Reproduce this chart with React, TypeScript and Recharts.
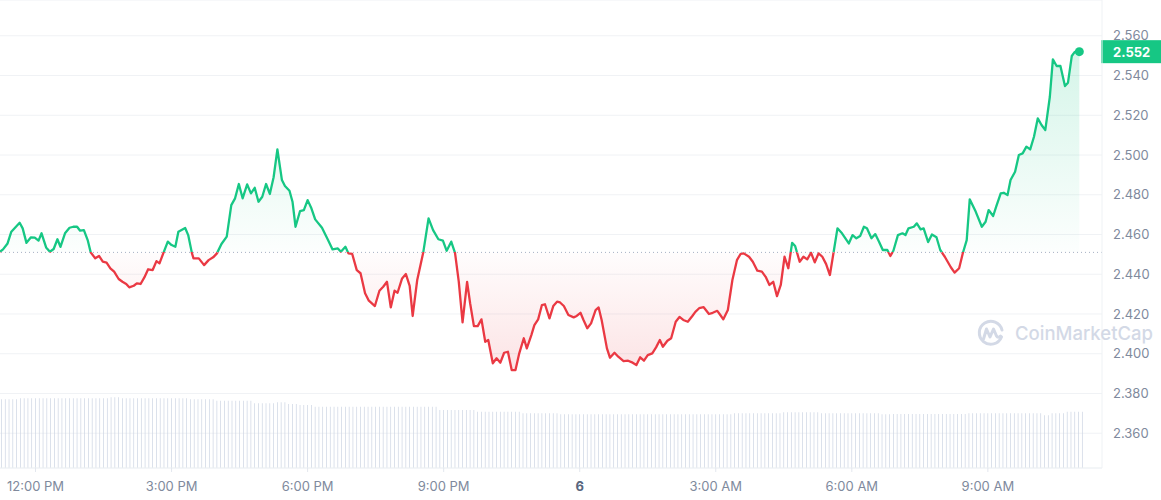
import React from 'react';
import {
  ComposedChart,
  Area,
  Bar,
  XAxis,
  YAxis,
  CartesianGrid,
  ReferenceLine,
  ReferenceDot,
} from 'recharts';

// minutes relative to 12:00 PM
const timeTicks = [0, 180, 360, 540, 720, 900, 1080, 1260];
const timeLabels = ['12:00 PM', '3:00 PM', '6:00 PM', '9:00 PM', '6', '3:00 AM', '6:00 AM', '9:00 AM'];
const priceTicks = [2.36, 2.38, 2.4, 2.42, 2.44, 2.46, 2.48, 2.5, 2.52, 2.54, 2.56];

const BASELINE = 2.451;

const priceMinutes = [
  -47, -43, -37, -32, -21, -17, -12, -6, -1, 4, 8, 14, 19, 24, 29, 33, 39, 45, 50, 55,
  59, 64, 69, 73, 79, 84, 89, 94, 99, 104, 110, 115, 120, 124, 130, 134, 139, 144, 149, 155,
  160, 164, 169, 175, 180, 185, 189, 198, 202, 207, 209, 216, 223, 229, 235, 240, 246, 253, 259, 264,
  269, 274, 280, 285, 290, 295, 300, 305, 310, 315, 320, 326, 330, 336, 340, 344, 350, 355, 360, 365,
  370, 379, 387, 393, 400, 404, 410, 414, 419, 425, 430, 436, 441, 449, 455, 460, 465, 470, 475, 479,
  485, 490, 495, 499, 505, 513, 520, 526, 533, 539, 544, 550, 555, 560, 565, 571, 575, 580, 585, 590,
  595, 599, 605, 610, 615, 620, 625, 630, 635, 640, 646, 650, 656, 660, 665, 670, 674, 680, 685, 690,
  694, 699, 705, 712, 716, 721, 725, 730, 735, 741, 745, 749, 756, 760, 766, 771, 778, 784, 790, 795,
  800, 805, 810, 816, 821, 826, 830, 836, 841, 847, 852, 857, 863, 869, 873, 878, 884, 891, 896, 902,
  906, 910, 916, 922, 928, 933, 937, 944, 949, 955, 961, 966, 971, 976, 981, 986, 991, 996, 1001, 1005,
  1011, 1016, 1021, 1026, 1031, 1036, 1041, 1046, 1051, 1056, 1061, 1067, 1076, 1081, 1086, 1091, 1096, 1100, 1106, 1111,
  1116, 1121, 1127, 1131, 1135, 1141, 1147, 1151, 1155, 1162, 1166, 1171, 1175, 1181, 1186, 1192, 1197, 1203, 1211, 1216,
  1222, 1227, 1232, 1236, 1244, 1252, 1257, 1261, 1267, 1271, 1277, 1281, 1286, 1290, 1296, 1301, 1306, 1311, 1316, 1321,
  1326, 1331, 1336, 1342, 1346, 1351, 1356, 1362, 1366, 1371, 1375, 1381,
];

const priceValues = [
  2.4513, 2.4525, 2.4555, 2.4614, 2.4659, 2.4631, 2.4558, 2.4586, 2.4584, 2.4569, 2.4606, 2.4535, 2.4513, 2.4527, 2.4576, 2.4538, 2.4606, 2.4634, 2.4639, 2.4639,
  2.4619, 2.4622, 2.4572, 2.451, 2.448, 2.4492, 2.4463, 2.4458, 2.443, 2.4413, 2.4376, 2.4362, 2.4351, 2.4334, 2.4342, 2.4354, 2.4351, 2.4384, 2.4425, 2.4421,
  2.4466, 2.4455, 2.4505, 2.4564, 2.4547, 2.4538, 2.4614, 2.4633, 2.4597, 2.4505, 2.448, 2.448, 2.4446, 2.4471, 2.4485, 2.4505, 2.4552, 2.4589, 2.4748, 2.4782,
  2.4854, 2.4782, 2.4852, 2.4807, 2.4835, 2.4765, 2.479, 2.4854, 2.4804, 2.4888, 2.5028, 2.4874, 2.4844, 2.482, 2.4765, 2.4639, 2.4718, 2.4723, 2.4773, 2.4732,
  2.4676, 2.4634, 2.4572, 2.4525, 2.453, 2.4513, 2.4538, 2.4505, 2.4502, 2.4421, 2.4405, 2.4304, 2.4267, 2.424, 2.4317, 2.4337, 2.4362, 2.4233, 2.4317, 2.4307,
  2.4379, 2.4401, 2.4341, 2.419, 2.4371, 2.451, 2.4681, 2.4622, 2.4576, 2.4569, 2.4518, 2.4564, 2.4508, 2.4362, 2.4158, 2.4362, 2.4254, 2.4139, 2.4139, 2.4173,
  2.406, 2.4069, 2.3952, 2.3977, 2.3955, 2.4005, 2.401, 2.3918, 2.3918, 2.4002, 2.4078, 2.4027, 2.4094, 2.4144, 2.4173, 2.4245, 2.4249, 2.4178, 2.424, 2.4262,
  2.4258, 2.424, 2.4195, 2.4183, 2.419, 2.4206, 2.417, 2.4128, 2.4153, 2.422, 2.4233, 2.417, 2.4027, 2.398, 2.4005, 2.3985, 2.3963, 2.3965, 2.3955, 2.3943,
  2.3982, 2.3965, 2.3993, 2.4002, 2.4032, 2.4069, 2.4035, 2.4065, 2.4078, 2.4161, 2.4185, 2.417, 2.4161, 2.419, 2.4211, 2.4229, 2.4234, 2.42, 2.4206, 2.4216,
  2.4195, 2.4173, 2.422, 2.4371, 2.4471, 2.4503, 2.4505, 2.4488, 2.4463, 2.4418, 2.4413, 2.4387, 2.4346, 2.4362, 2.429, 2.4346, 2.4488, 2.443, 2.4558, 2.4542,
  2.4463, 2.4488, 2.4475, 2.4508, 2.446, 2.4505, 2.4488, 2.4451, 2.4396, 2.4513, 2.4631, 2.4606, 2.4555, 2.4597, 2.4581, 2.4592, 2.4639, 2.4631, 2.4581, 2.4602,
  2.4564, 2.4522, 2.4522, 2.4492, 2.4518, 2.4597, 2.4606, 2.4597, 2.4631, 2.4639, 2.4656, 2.4626, 2.4631, 2.4562, 2.46, 2.4586, 2.4522, 2.4488, 2.4435, 2.4408,
  2.443, 2.4508, 2.4572, 2.4777, 2.4714, 2.4639, 2.4664, 2.4723, 2.4693, 2.474, 2.4807, 2.481, 2.4798, 2.4874, 2.4916, 2.5, 2.5008, 2.5042, 2.5028, 2.5092,
  2.5184, 2.5151, 2.5126, 2.5293, 2.5481, 2.5448, 2.5448, 2.5347, 2.5364, 2.5498, 2.5519, 2.552,
];

// 24h volume (billions), one bar every 5 minutes from 11:15 AM, stored as runs
const volumeStart = -45;
const volumeStep = 5;
const volumeLevels = [6.87, 6.97, 7.07, 6.97, 6.87, 6.73, 6.47, 6.57, 6.4, 6.3, 6.13, 5.8, 5.63, 5.47, 5.37, 5.47, 5.57, 5.47, 5.37, 5.4, 5.47, 5.27, 5.47, 5.63];
const volumeCounts = [5, 24, 3, 18, 7, 10, 6, 3, 3, 4, 33, 10, 12, 10, 46, 13, 10, 16, 3, 20, 20, 2, 4, 5];

const GREEN = '#16c784';
const RED = '#ea3943';

type Row = { t: number; price?: number; volume?: number };

const buildRows = (): Row[] => {
  const map = new Map<number, Row>();
  let i = 0;
  volumeLevels.forEach((v, k) => {
    for (let n = 0; n < volumeCounts[k]; n++) {
      const t = volumeStart + volumeStep * i;
      map.set(t, { t, volume: v });
      i++;
    }
  });
  priceMinutes.forEach((t, k) => {
    const row = map.get(t) || { t };
    row.price = priceValues[k];
    map.set(t, row);
  });
  return Array.from(map.values()).sort((a, b) => a.t - b.t);
};

const rows = buildRows();
const pMax = Math.max(...priceValues);
const pMin = Math.min(...priceValues);
const splitOffset = (pMax - BASELINE) / (pMax - pMin);
const lastT = priceMinutes[priceMinutes.length - 1];
const lastPrice = priceValues[priceValues.length - 1];

const TimeTick = ({ x, y, payload }: any) => {
  const label = timeLabels[timeTicks.indexOf(payload.value)];
  const bold = label === '6';
  return (
    <text x={x} y={y} dy={11} textAnchor="middle" fontSize={13} fill={bold ? '#58667e' : '#808a9d'} fontWeight={bold ? 700 : 400}>
      {label}
    </text>
  );
};

const PriceBadge = ({ viewBox }: any) => {
  if (!viewBox) return null;
  const left = viewBox.x + viewBox.width;
  return (
    <g>
      <rect x={left - 1} y={viewBox.y - 11.5} width={61} height={23} fill={GREEN} />
      <text x={left + 11} y={viewBox.y + 5} fill="#fff" fontSize={13} fontWeight={700}>
        {lastPrice.toFixed(3)}
      </text>
    </g>
  );
};

const Watermark = () => (
  <svg width={1161} height={500} style={{ position: 'absolute', left: 0, top: 0, pointerEvents: 'none' }}>
    <g stroke="#d3d9e6" strokeWidth={3} fill="none" strokeLinecap="round" strokeLinejoin="round">
      <path d="M1001.5,337 A11.5,11.5 0 1 1 1002,330" />
      <path d="M983.5,339 L986.5,329 L990,337 L993.5,329 L996.5,336 Q998,338.5 1000.5,336" />
    </g>
    <text x={1015} y={340} fontSize={18.5} fontWeight={500} fill="#d3d9e6" fontFamily="Inter, sans-serif">
      CoinMarketCap
    </text>
  </svg>
);

export default function App() {
  return (
    <div style={{ position: 'absolute', left: 0, top: 0, width: 1161, height: 500, background: '#fff', fontFamily: 'Inter, sans-serif' }}>
      <ComposedChart width={1161} height={500} data={rows} margin={{ top: 0, right: 0, bottom: 0, left: 0 }}>
        <defs>
          <linearGradient id="priceStroke" x1="0" y1="0" x2="0" y2="1">
            <stop offset={0} stopColor={GREEN} />
            <stop offset={splitOffset} stopColor={GREEN} />
            <stop offset={splitOffset} stopColor={RED} />
            <stop offset={1} stopColor={RED} />
          </linearGradient>
          <linearGradient id="priceFill" x1="0" y1="0" x2="0" y2="1">
            <stop offset={0} stopColor={GREEN} stopOpacity={0.3} />
            <stop offset={splitOffset} stopColor={GREEN} stopOpacity={0.02} />
            <stop offset={splitOffset} stopColor={RED} stopOpacity={0.02} />
            <stop offset={1} stopColor={RED} stopOpacity={0.23} />
          </linearGradient>
        </defs>
        <CartesianGrid yAxisId="price" vertical={false} stroke="#f0f2f5" />
        <XAxis
          dataKey="t"
          type="number"
          scale="linear"
          domain={[-47, 1411]}
          ticks={timeTicks}
          interval={0}
          height={32}
          tick={<TimeTick />}
          tickSize={4}
          tickMargin={8}
          axisLine={{ stroke: '#eff2f5' }}
          tickLine={{ stroke: '#e3e7ee' }}
          allowDataOverflow
        />
        <YAxis
          yAxisId="price"
          orientation="right"
          width={59}
          domain={[2.3425, 2.578]}
          ticks={priceTicks}
          interval={0}
          allowDataOverflow
          tickFormatter={(v: number) => v.toFixed(3)}
          tick={{ fill: '#808a9d', fontSize: 13 }}
          tickSize={0}
          tickMargin={11}
          tickLine={false}
          axisLine={{ stroke: '#eff2f5' }}
        />
        <YAxis yAxisId="vol" hide domain={[0, 46.8]} allowDataOverflow />
        <Bar yAxisId="vol" dataKey="volume" fill="#cbd3e2" barSize={2} isAnimationActive={false} />
        <ReferenceLine yAxisId="price" y={BASELINE} stroke="#a6b0c3" strokeDasharray="1 3" />
        <Area
          yAxisId="price"
          type="linear"
          dataKey="price"
          baseValue={BASELINE}
          connectNulls
          stroke="url(#priceStroke)"
          strokeWidth={2.3}
          strokeLinejoin="round"
          fill="url(#priceFill)"
          dot={false}
          activeDot={false}
          isAnimationActive={false}
        />
        <ReferenceLine yAxisId="price" y={lastPrice} stroke="none" label={<PriceBadge />} />
        <ReferenceDot yAxisId="price" x={lastT} y={lastPrice} r={4.5} fill={GREEN} stroke="none" />
      </ComposedChart>
      <Watermark />
    </div>
  );
}
